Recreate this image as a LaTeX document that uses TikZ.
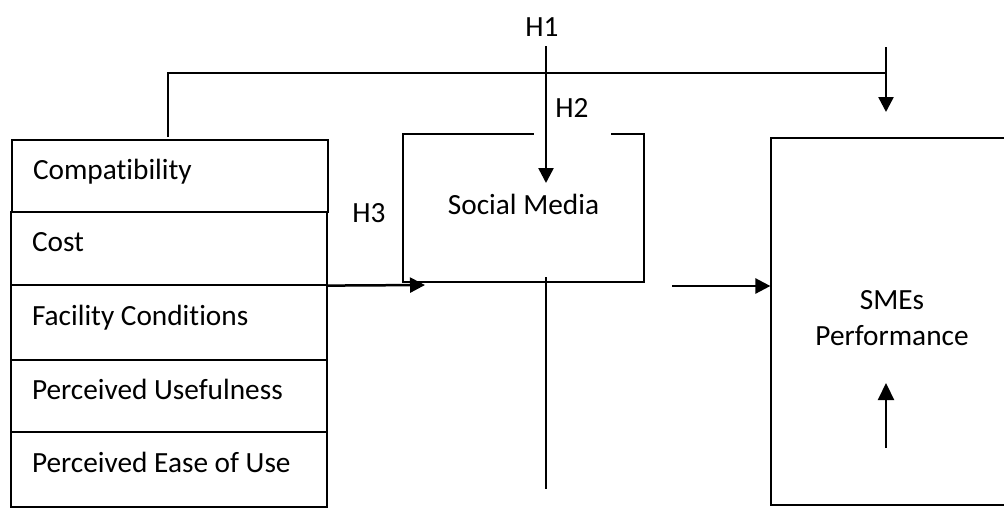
\documentclass[tikz,border=0pt]{standalone}
\usepackage{fontspec}
\setmainfont{Carlito}[Ligatures=NoCommon]
\usetikzlibrary{arrows.meta}
\begin{document}
\begin{tikzpicture}[x=1pt,y=-1pt,
  font=\fontsize{29.3}{35}\selectfont,
  thin line/.style={line width=1.2pt},
  box/.style={draw, line width=1.2pt, inner sep=0pt},
  row/.style={box, minimum width=316pt, inner xsep=21pt,
    text height=20pt, text depth=14pt},
  lbl/.style={inner sep=0pt},
  thick arrow/.style={line width=2.5pt, -{Triangle[length=15pt,width=15pt]}},
  up arrow/.style={line width=2.2pt, -{Triangle[length=17pt,width=16pt]}}]
\useasboundingbox (0,0) rectangle (1004,523);
\newcommand\rowtext[1]{\makebox[274pt][l]{#1}}

% factor stack
\node[row, minimum height=72pt] (compat) at (170,176)   {\rowtext{Compatibility}};
\node[row, minimum height=73pt] (cost)   at (169,248.5) {\rowtext{Cost}};
\node[row, minimum height=75pt] (fac)    at (169,322.5) {\rowtext{Facility Conditions}};
\node[row, minimum height=72pt] (pu)     at (169,396)   {\rowtext{Perceived Usefulness}};
\node[row, minimum height=75pt] (peou)   at (169,469.5) {\rowtext{Perceived Ease of Use}};

% mediator and outcome
\node[box, minimum width=241pt, minimum height=148pt, align=center] (sm) at (523.5,208)
  {Social Media\rule[-8pt]{0pt}{0pt}};
\node[box, minimum width=242pt, minimum height=367pt, align=center] (sme) at (892,321.5)
  {SMEs\\[1pt]Performance\rule[-8pt]{0pt}{0pt}};

% hypothesis labels
\node[lbl] (h1) at (542,27) {H1};
\node[lbl, fill=white, minimum width=77pt, minimum height=56pt] (h2) at (572,108) {H2};
\node[lbl] (h3) at (369,213) {H3};

% connector end points
\coordinate (h1top)     at (546,46);
\coordinate (h1tip)     at (546,183);
\coordinate (loopStart) at (168,137);
\coordinate (loopEnd)   at (885,73);
\coordinate (dTop)      at (886,47);
\coordinate (dTip)      at (886,112);
\coordinate (smIn)      at (425,285);
\coordinate (stemTop)   at (546,277);
\coordinate (stemBot)   at (546,489);
\coordinate (midStart)  at (672,286);
\coordinate (upBot)     at (886,448);
\coordinate (upTip)     at (886,383);

% connectors
\draw[thin line] (loopStart) |- (loopEnd);
\draw[thick arrow] (dTop) -- (dTip);
\draw[thick arrow] (h1top) -- (h1tip);
\draw[thick arrow] (cost.south east) -- (smIn);
\draw[thin line] (stemTop) -- (stemBot);
\draw[thick arrow] (midStart) -- (midStart -| sme.west);
\draw[up arrow] (upBot) -- (upTip);
\end{tikzpicture}
\end{document}
